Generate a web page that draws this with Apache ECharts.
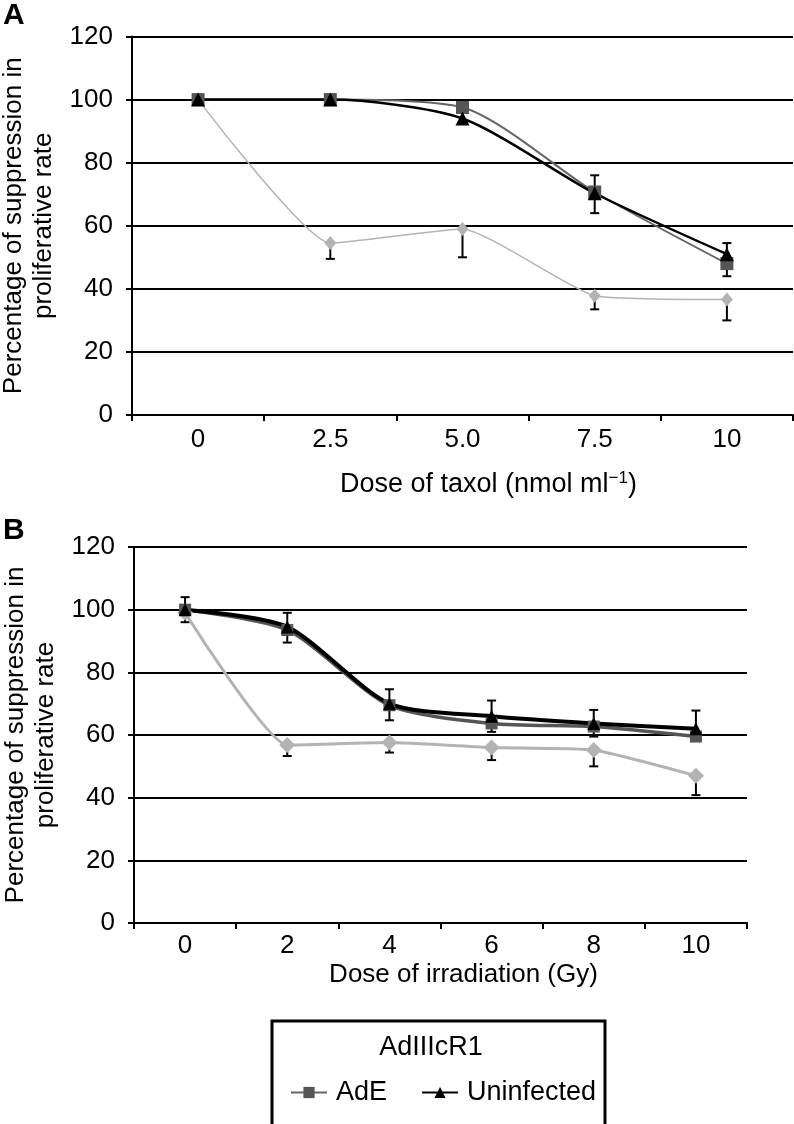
<!DOCTYPE html>
<html>
<head>
<meta charset="utf-8">
<script src="https://cdn.jsdelivr.net/npm/echarts@6/dist/echarts.min.js"></script>
<style>
  html, body { margin: 0; padding: 0; background: #fff; }
  #chart { width: 794px; height: 1124px; }
</style>
</head>
<body>
<div id="chart"></div>
<script>
// Panel A: taxol
const taxolDoses = ["0", "2.5", "5.0", "7.5", "10"];
const taxolAdE = [100, 100, 97.5, 70.7, 48];
const taxolUninfected = [100, 100, 94, 70.3, 51];
const taxolAdIIIcR1 = [100, 54.5, 59, 37.8, 36.6];
// [dose index, low, high]
const taxolErrors = [
  [1, 49.5, 54.5], [2, 50, 59], [3, 64, 76], [3, 33.5, 37.8], [4, 44, 54.5], [4, 30, 36.6]
];

// Panel B: irradiation
const irrDoses = ["0", "2", "4", "6", "8", "10"];
const irrAdE = [100, 93.5, 69.5, 63.7, 62.7, 59.5];
const irrUninfected = [100, 94.5, 70, 66, 63.7, 62];
const irrAdIIIcR1 = [99, 56.8, 57.6, 56, 55.2, 47];
const irrErrors = [
  [0, 96, 104], [1, 89.5, 99], [2, 64.7, 74.6], [3, 61, 71], [4, 59.5, 68], [5, 60, 67.8],
  [1, 53.3, 56.8], [2, 54.4, 57.6], [3, 52, 56], [4, 50, 55.2], [5, 40.8, 47]
];

const yTicks = { min: 0, max: 120, interval: 20 };

const FONT = "'Liberation Sans', Arial, sans-serif";

const chartDom = document.getElementById("chart");
const myChart = echarts.init(chartDom, null, { renderer: "canvas" });

function renderErrorBar(params, api) {
  const x = api.value(0);
  const low = api.coord([x, api.value(1)]);
  const high = api.coord([x, api.value(2)]);
  const half = 4.5;
  const style = { stroke: "#000", lineWidth: 2 };
  return {
    type: "group",
    children: [
      { type: "line", shape: { x1: low[0], y1: low[1], x2: high[0], y2: high[1] }, style },
      { type: "line", shape: { x1: low[0] - half, y1: low[1], x2: low[0] + half, y2: low[1] }, style },
      { type: "line", shape: { x1: high[0] - half, y1: high[1], x2: high[0] + half, y2: high[1] }, style },
    ],
  };
}

function yAxisFor(gridIndex) {
  return {
    type: "value",
    gridIndex,
    min: yTicks.min,
    max: yTicks.max,
    interval: yTicks.interval,
    name: "Percentage of suppression in\nproliferative rate",
    nameLocation: "middle",
    nameGap: 73,
    nameTextStyle: { fontFamily: FONT, fontSize: 26, color: "#000", lineHeight: 30 },
    axisLine: { show: true, lineStyle: { color: "#000", width: 2 } },
    axisTick: { show: true, length: 6, lineStyle: { color: "#000", width: 2 } },
    axisLabel: { margin: 19, fontFamily: FONT, fontSize: 26, color: "#000" },
    splitLine: { show: true, lineStyle: { color: "#000", width: 2 } },
  };
}

function xAxisFor(gridIndex, data, name, nameGap, padLeft, labelMargin, nameSize) {
  return {
    type: "category",
    gridIndex,
    data,
    boundaryGap: true,
    name,
    nameLocation: "middle",
    nameGap,
    nameTextStyle: {
      fontFamily: FONT, fontSize: nameSize, color: "#000",
      padding: [0, 0, 0, padLeft],
      rich: { sup: { fontFamily: FONT, fontSize: 17, color: "#000", verticalAlign: "top", padding: [0, 0, 12, 0] } },
    },
    axisLine: { show: true, lineStyle: { color: "#000", width: 2 } },
    axisTick: { show: true, alignWithLabel: false, length: 6, lineStyle: { color: "#000", width: 2 } },
    axisLabel: { margin: labelMargin, fontFamily: FONT, fontSize: 26, color: "#000" },
    splitLine: { show: false },
  };
}

function lineSeries(name, data, idx, color, lineColor, width, symbol, size, smooth) {
  return {
    name,
    type: "line",
    xAxisIndex: idx,
    yAxisIndex: idx,
    data,
    smooth,
    z: 3,
    symbol,
    symbolSize: size,
    showSymbol: true,
    lineStyle: { color: lineColor, width },
    itemStyle: { color, borderWidth: 0 },
    emphasis: { disabled: true },
  };
}

function errorSeries(data, idx) {
  return {
    type: "custom",
    xAxisIndex: idx,
    yAxisIndex: idx,
    data,
    encode: { x: 0, y: [1, 2] },
    renderItem: renderErrorBar,
    z: 2,
    silent: true,
  };
}

const option = {
  animation: false,
  backgroundColor: "#fff",
  grid: [
    { left: 132, top: 36.5, width: 661, height: 378.5, outerBoundsMode: "none", containLabel: false },
    { left: 134, top: 547, width: 613, height: 376, outerBoundsMode: "none", containLabel: false },
  ],
  xAxis: [
    xAxisFor(0, taxolDoses, "Dose of taxol (nmol ml{sup|\u22121})", 55, 52, 12, 27),
    xAxisFor(1, irrDoses, "Dose of irradiation (Gy)", 39, 46, 10, 26),
  ],
  yAxis: [yAxisFor(0), yAxisFor(1)],
  legend: {
    data: ["AdE", "Uninfected"],
    left: 285,
    top: 1074,
    itemWidth: 36,
    itemHeight: 14,
    itemGap: 34,
    textStyle: { fontFamily: FONT, fontSize: 27, color: "#000", padding: [0, 0, 0, 4] },
    selectedMode: false,
  },
  graphic: [
    { type: "text", left: 3, top: 1, style: { text: "A", font: "bold 30px " + FONT, fill: "#000" } },
    { type: "text", left: 3, top: 516, style: { text: "B", font: "bold 30px " + FONT, fill: "#000" } },
    {
      type: "rect",
      shape: { x: 272, y: 1021, width: 333, height: 140 },
      style: { fill: "none", stroke: "#000", lineWidth: 3 },
    },
    {
      type: "text",
      x: 431,
      y: 1048,
      style: { text: "AdIIIcR1", font: "27px " + FONT, fill: "#000", align: "center", verticalAlign: "middle" },
    },
  ],
  series: [
    lineSeries("AdIIIcR1", taxolAdIIIcR1, 0, "#b3b3b3", "#b3b3b3", 1.5, "diamond", [12, 14], 0.15),
    lineSeries("AdE", taxolAdE, 0, "#555555", "#666666", 2, "rect", 13, 0.25),
    lineSeries("Uninfected", taxolUninfected, 0, "#000000", "#000000", 2.5, "triangle", 14, 0.25),
    errorSeries(taxolErrors, 0),
    lineSeries("AdIIIcR1", irrAdIIIcR1, 1, "#b3b3b3", "#b3b3b3", 3, "diamond", [16, 16], 0.15),
    lineSeries("AdE", irrAdE, 1, "#555555", "#555555", 3.5, "rect", 12, 0.25),
    lineSeries("Uninfected", irrUninfected, 1, "#000000", "#000000", 4, "triangle", 13, 0.25),
    errorSeries(irrErrors, 1),
  ],
};

myChart.setOption(option);
</script>
</body>
</html>
